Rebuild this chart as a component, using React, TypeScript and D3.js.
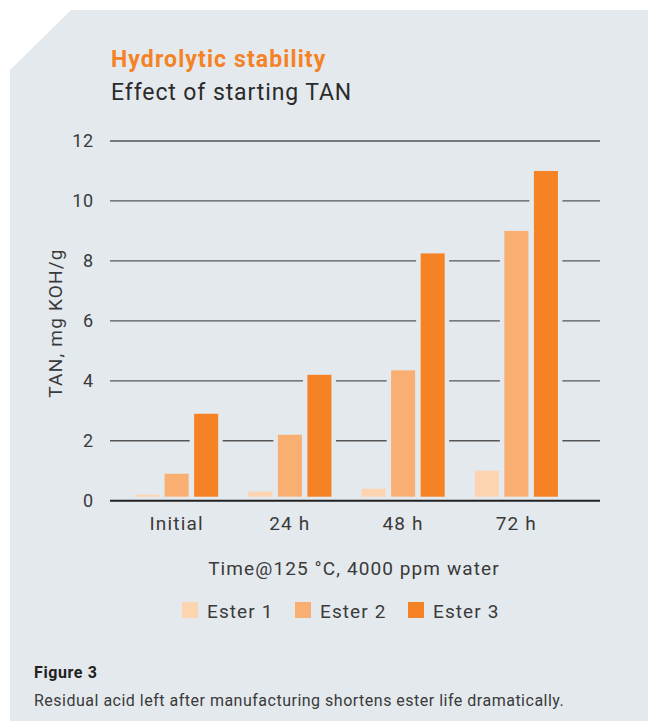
import { useMemo } from "react";
import * as d3 from "d3";

const categories = ["Initial", "24 h", "48 h", "72 h"];
const seriesNames = ["Ester 1", "Ester 2", "Ester 3"];
const ester1 = [0.2, 0.3, 0.4, 1.0];
const ester2 = [0.9, 2.2, 4.35, 9.0];
const ester3 = [2.9, 4.2, 8.25, 11.0];
const yTicks = [0, 2, 4, 6, 8, 10, 12];
const colors = ["#FDD4B0", "#FAAF72", "#F58225"];

const W = 648;
const H = 721;
const BG = "#E4E9ED";
const FONT = "Roboto, 'Noto Sans', sans-serif";

export default function App() {
  const series = [ester1, ester2, ester3];

  const x = useMemo(
    () => d3.scaleBand<string>().domain(categories).range([120, 573]).padding(0),
    []
  );
  const xInner = useMemo(
    () =>
      d3
        .scaleBand<string>()
        .domain(seriesNames)
        .range([0, x.bandwidth()])
        .paddingInner(0.186)
        .paddingOuter(0.51),
    [x]
  );
  const y = useMemo(() => d3.scaleLinear().domain([0, 12]).range([500.7, 141]), []);

  const gridX0 = 110;
  const gridX1 = 600;
  const gap = 4.5;

  return (
    <div style={{ position: "absolute", left: 0, top: 0 }}>
      <svg width={W} height={H} style={{ display: "block", background: "#fff" }}>
        <path d={`M71,10 L${W},10 L${W},${H} L10,${H} L10,70 Z`} fill={BG} />

        <text x={111} y={67} fill="#F58225" fontFamily={FONT} fontWeight={700} fontSize={23} letterSpacing={1.1}>
          Hydrolytic stability
        </text>
        <text x={111} y={100} fill="#2b2b2b" fontFamily={FONT} fontSize={23} letterSpacing={0.9}>
          Effect of starting TAN
        </text>

        {/* gridlines */}
        {yTicks
          .filter((t) => t > 0)
          .map((t) => (
            <line key={t} x1={gridX0} x2={gridX1} y1={y(t)} y2={y(t)} stroke="#555" strokeWidth={1.3} />
          ))}

        {/* tick labels */}
        {yTicks.map((t) => (
          <text
            key={"l" + t}
            x={94}
            y={y(t)}
            dy="0.36em"
            textAnchor="end"
            fill="#3a3a3a"
            fontFamily={FONT}
            fontSize={18}
            letterSpacing={0.8}
          >
            {t}
          </text>
        ))}

        {/* bars with background knock-out */}
        {categories.map((c, ci) => (
          <g key={c} transform={`translate(${x(c)},0)`}>
            {seriesNames.map((s, si) => {
              const bx = xInner(s)!;
              const bw = xInner.bandwidth();
              const v = series[si][ci];
              return (
                <g key={s}>
                  <rect x={bx - gap} y={y(v) - 2} width={bw + gap * 2} height={y(0) - y(v) + 2} fill={BG} />
                  <rect x={bx} y={y(v)} width={bw} height={y(0) - 4 - y(v)} fill={colors[si]} />
                </g>
              );
            })}
            <text
              x={x.bandwidth() / 2}
              y={530}
              textAnchor="middle"
              fill="#3a3a3a"
              fontFamily={FONT}
              fontSize={19}
              letterSpacing={1.2}
            >
              {c}
            </text>
          </g>
        ))}

        <line x1={gridX0} x2={gridX1} y1={y(0)} y2={y(0)} stroke="#222" strokeWidth={2} />

        <text
          transform={`translate(62,${323}) rotate(-90)`}
          textAnchor="middle"
          fill="#3a3a3a"
          fontFamily={FONT}
          fontSize={19}
          letterSpacing={1.2}
        >
          TAN, mg KOH/g
        </text>

        <text x={354} y={575} textAnchor="middle" fill="#3a3a3a" fontFamily={FONT} fontSize={19} letterSpacing={1.1}>
          Time@125 °C, 4000 ppm water
        </text>

        {/* legend */}
        {seriesNames.map((s, i) => {
          const lx = [182, 295, 408][i];
          return (
            <g key={s}>
              <rect x={lx} y={602} width={16} height={16} fill={colors[i]} />
              <text x={lx + 25} y={618} fill="#3a3a3a" fontFamily={FONT} fontSize={19} letterSpacing={1.1}>
                {s}
              </text>
            </g>
          );
        })}

        <text x={34} y={678} fill="#222" fontFamily={FONT} fontWeight={700} fontSize={16} letterSpacing={0.6}>
          Figure 3
        </text>
        <text x={34} y={706} fill="#3a3a3a" fontFamily={FONT} fontSize={16} letterSpacing={0.5}>
          Residual acid left after manufacturing shortens ester life dramatically.
        </text>
      </svg>
    </div>
  );
}
